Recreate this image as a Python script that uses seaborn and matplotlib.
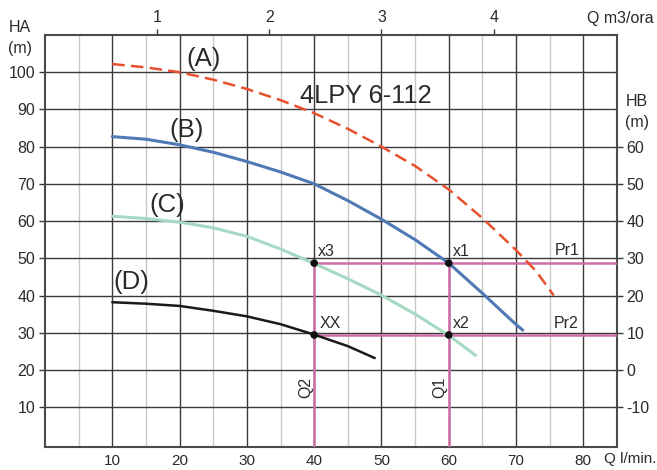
import pandas as pd
import matplotlib.pyplot as plt
import seaborn as sns

# pump curves (Q in l/min, HA in m)
q_a = [10, 15, 20, 25, 30, 35, 40, 45, 50, 55, 60, 65, 70, 73, 75.6]
h_a = [102.2, 101.3, 100.0, 98.0, 95.5, 92.5, 89.0, 84.8, 80.0, 74.8, 68.5, 60.8, 52.2, 46.5, 40.0]
q_b = [10, 15, 20, 25, 30, 35, 40, 45, 50, 55, 60, 65, 70, 71]
h_b = [82.7, 82.0, 80.5, 78.5, 76.0, 73.2, 70.0, 65.5, 60.5, 55.0, 48.7, 40.6, 32.2, 30.7]
q_c = [10, 15, 20, 25, 30, 35, 40, 45, 50, 55, 60, 64]
h_c = [61.3, 60.7, 59.7, 58.2, 55.9, 52.5, 48.6, 44.5, 40.1, 35.0, 29.3, 23.9]
q_d = [10, 15, 20, 25, 30, 35, 40, 45, 49]
h_d = [38.2, 37.8, 37.2, 35.9, 34.4, 32.3, 29.5, 26.4, 23.2]

curve_labels = ["(A)", "(B)", "(C)", "(D)"]
curve_colors = ["#e8502e", "#4f79b5", "#a6d9c2", "#1a1a1a"]

# working points
pt_names = ["x3", "x1", "XX", "x2"]
pt_q = [40, 60, 40, 60]
pt_h = [48.7, 48.7, 29.4, 29.4]

x_ticks = [10, 20, 30, 40, 50, 60, 70, 80]
ha_ticks = [10, 20, 30, 40, 50, 60, 70, 80, 90, 100]
hb_ticks = [-10, 0, 10, 20, 30, 40, 50, 60]
m3h_ticks = [1, 2, 3, 4]

sns.set_style("white")
plt.rcParams['font.family'] = ['Liberation Sans', 'DejaVu Sans']
plt.rcParams['axes.unicode_minus'] = False

fig = plt.figure(figsize=(6.57, 4.70), dpi=100)
ax = fig.add_axes([45 / 657, 23 / 470, 572 / 657, 412 / 470])

df = pd.concat([
    pd.DataFrame({"Q": q_a, "H": h_a, "curve": "A"}),
    pd.DataFrame({"Q": q_b, "H": h_b, "curve": "B"}),
    pd.DataFrame({"Q": q_c, "H": h_c, "curve": "C"}),
    pd.DataFrame({"Q": q_d, "H": h_d, "curve": "D"}),
])

ax.set_xlim(0, 85)
ax.set_ylim(-0.7, 110)

# grid: dark every 10, light verticals every 5
ax.set_xticks(x_ticks)
ax.set_xticks([5, 15, 25, 35, 45, 55, 65, 75], minor=True)
ax.set_yticks(ha_ticks)
ax.grid(which='major', color='#3a3a3a', linewidth=1.0)
ax.grid(which='minor', axis='x', color='#c8c8c8', linewidth=1.0)
ax.set_axisbelow(True)
ax.tick_params(which='major', length=4, width=1, color='#3a3a3a', labelsize=11.5,
               labelcolor='#2a2a2a', pad=3)
ax.tick_params(axis='x', which='major', labelsize=11, pad=1)
ax.tick_params(which='minor', length=0)
for s in ax.spines.values():
    s.set_color('#4a4a4a')
    s.set_linewidth(1.5)

# pink construction lines
pink = "#cc6fa8"
ax.plot([40, 40], [-0.7, pt_h[0]], color=pink, lw=1.8, zorder=3)
ax.plot([60, 60], [-0.7, pt_h[1]], color=pink, lw=1.8, zorder=3)
ax.plot([40, 85], [pt_h[0], pt_h[0]], color=pink, lw=1.8, zorder=3)
ax.plot([40, 85], [pt_h[2], pt_h[2]], color=pink, lw=1.8, zorder=3)

for c, col in zip(["A", "B", "C", "D"], curve_colors):
    sub = df[df["curve"] == c]
    sns.lineplot(data=sub, x="Q", y="H", ax=ax, color=col, sort=False,
                 lw=1.8 if c in ("A", "D") else 2.2,
                 linestyle='--' if c == "A" else '-', zorder=4)
ax.lines[-4].set_dashes([5, 2.5])

sns.scatterplot(x=pt_q, y=pt_h, ax=ax, color='#111111', s=30, zorder=5, edgecolor='none')

ax.set_xlabel("")
ax.set_ylabel("")

txt = '#2a2a2a'
# curve labels
lab_pos = [(23.6, 103.6), (21.1, 84.4), (18.1, 64.3), (12.9, 43.7)]
for t, (x, y) in zip(curve_labels, lab_pos):
    ax.text(x, y, t, fontsize=18.5, ha='center', va='center', color=txt)
ax.text(47.6, 93.5, "4LPY 6-112", fontsize=18.3, ha='center', va='center', color=txt)

pt_text = [(40.6, 51.8), (60.6, 51.8), (40.8, 32.6), (60.6, 32.6)]
for t, (x, y) in zip(pt_names, pt_text):
    ax.text(x, y, t, fontsize=11.5, ha='left', va='center', color=txt)
ax.text(75.7, 52.0, "Pr1", fontsize=11.5, ha='left', va='center', color=txt)
ax.text(75.6, 32.4, "Pr2", fontsize=11.5, ha='left', va='center', color=txt)
ax.text(38.7, 15.4, "Q2", fontsize=11.5, ha='center', va='center', rotation=90, color=txt)
ax.text(58.7, 15.4, "Q1", fontsize=11.5, ha='center', va='center', rotation=90, color=txt)

# right axis HB = HA - 20
ax2 = ax.twinx()
ax2.set_ylim(-20.7, 90)
ax2.set_yticks(hb_ticks)
ax2.tick_params(length=4, width=1, color='#3a3a3a', labelsize=11.5, labelcolor=txt, pad=3)
for s in ax2.spines.values():
    s.set_visible(False)

# top axis in m3/h
top = ax.secondary_xaxis('top', functions=(lambda q: q * 0.06, lambda m: m / 0.06))
top.set_xticks(m3h_ticks)
top.tick_params(length=4, width=1, color='#3a3a3a', labelsize=11.5, labelcolor=txt, pad=3)
top.spines['top'].set_visible(False)

fig.text(20 / 657, 1 - 27 / 470, "HA", fontsize=11.5, ha='center', va='center', color=txt)
fig.text(20 / 657, 1 - 48 / 470, "(m)", fontsize=11.5, ha='center', va='center', color=txt)
fig.text(637 / 657, 1 - 101 / 470, "HB", fontsize=11.5, ha='center', va='center', color=txt)
fig.text(637 / 657, 1 - 123 / 470, "(m)", fontsize=11.5, ha='center', va='center', color=txt)
fig.text(654 / 657, 1 - 18 / 470, "Q m3/ora", fontsize=11.5, ha='right', va='center', color=txt)
fig.text(656 / 657, 1 - 459 / 470, "Q l/min.", fontsize=11, ha='right', va='center', color=txt)

fig.savefig("out.png", dpi=100)
